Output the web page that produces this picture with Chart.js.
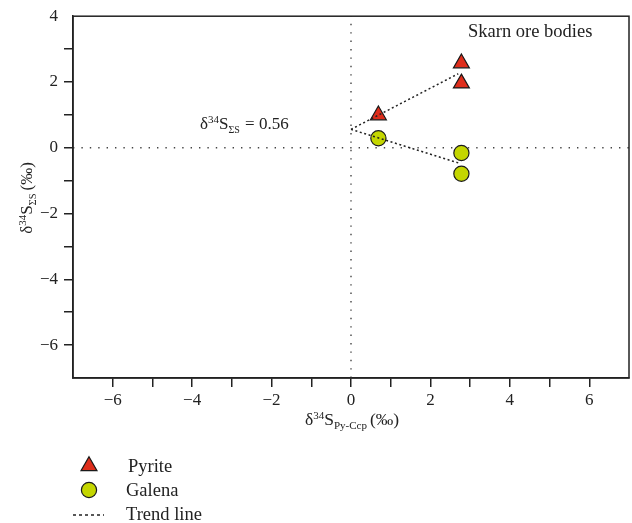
<!DOCTYPE html>
<html>
<head>
<meta charset="utf-8">
<script src="https://cdn.jsdelivr.net/npm/chart.js@4.4.1/dist/chart.umd.min.js"></script>
<style>
  html, body { margin: 0; padding: 0; background: #fff; }
  #wrap { width: 632px; height: 523px; position: relative; }
</style>
</head>
<body>
<div id="wrap"><canvas id="chart-sulfur"></canvas></div>
<script>
// sulfur isotope data (‰)
const pyriteX = [0.69, 2.78, 2.78];
const pyriteY = [0.99, 2.57, 1.96];
const galenaX = [0.69, 2.78, 2.78];
const galenaY = [0.29, -0.16, -0.79];

// trend lines meet the y axis at the bulk sulfur value
const sumS = 0.56;
const trendX = [0, 2.7];
const pyriteTrendY = [sumS, 2.25];
const galenaTrendY = [sumS, -0.46];

const xTicks = [-6, -4, -2, 0, 2, 4, 6];
const yTicks = [-6, -4, -2, 0, 2, 4];

const serif = "'Liberation Serif', 'DejaVu Serif', serif";
const ink = "#222";

function pts(xs, ys) {
  return xs.map((x, i) => ({ x: x, y: ys[i] }));
}

function minus(v) {
  return v < 0 ? "\u2212" + Math.abs(v) : String(v);
}

// draws text runs with super/subscripts, starting at x on baseline y
function richText(ctx, runs, x, y) {
  let cx = x;
  runs.forEach(r => {
    ctx.font = r.size + "px " + serif;
    ctx.fillText(r.t, cx, y + (r.dy || 0));
    cx += ctx.measureText(r.t).width + (r.gap || 0);
  });
  return cx - x;
}

function richWidth(ctx, runs) {
  let w = 0;
  runs.forEach(r => {
    ctx.font = r.size + "px " + serif;
    w += ctx.measureText(r.t).width + (r.gap || 0);
  });
  return w;
}

const xTitle = [
  { t: "\u03b4", size: 17.5 },
  { t: "34", size: 11, dy: -6 },
  { t: "S", size: 17.5 },
  { t: "Py-Ccp", size: 11, dy: 4, gap: 3 },
  { t: "(\u2030)", size: 17.5 },
];
const yTitle = [
  { t: "\u03b4", size: 17 },
  { t: "34", size: 11, dy: -6 },
  { t: "S", size: 17 },
  { t: "\u03a3S", size: 10.5, dy: 4, gap: 3 },
  { t: "(\u2030)", size: 17 },
];
const sumLabel = [
  { t: "\u03b4", size: 17 },
  { t: "34", size: 11, dy: -6 },
  { t: "S", size: 17 },
  { t: "\u03a3S", size: 10, dy: 4, gap: 1 },
  { t: " = " + sumS, size: 17 },
];

const decorations = {
  id: "decorations",
  afterDraw(chart) {
    const { ctx, chartArea: a } = chart;
    ctx.save();
    // frame around the plot area
    ctx.strokeStyle = ink;
    ctx.lineWidth = 1.5;
    ctx.strokeRect(a.left, a.top, a.right - a.left, a.bottom - a.top);

    ctx.fillStyle = ink;
    ctx.textBaseline = "alphabetic";
    ctx.textAlign = "left";

    // axis titles
    richText(ctx, xTitle, 305, 425);
    const yw = richWidth(ctx, yTitle);
    ctx.save();
    ctx.translate(32, 198 + yw / 2);
    ctx.rotate(-Math.PI / 2);
    richText(ctx, yTitle, 0, 0);
    ctx.restore();

    // annotations
    richText(ctx, sumLabel, 200, 129);
    ctx.font = "18.5px " + serif;
    ctx.fillText("Skarn ore bodies", 468, 37);

    // legend
    const ds = chart.data.datasets;
    const items = [
      { d: ds[2], y: 466 },
      { d: ds[3], y: 490 },
    ];
    items.forEach(it => {
      ctx.fillStyle = it.d.backgroundColor;
      ctx.strokeStyle = it.d.borderColor;
      ctx.lineWidth = it.d.borderWidth;
      Chart.helpers.drawPoint(ctx, {
        pointStyle: it.d.pointStyle,
        radius: it.d.pointRadius,
        rotation: 0,
        borderWidth: it.d.borderWidth,
      }, 89, it.y);
      ctx.fillStyle = ink;
      ctx.font = "18.5px " + serif;
      ctx.textBaseline = "middle";
      ctx.fillText(it.d.label, it.d.label === "Pyrite" ? 128 : 126, it.y + 1);
    });
    ctx.strokeStyle = ink;
    ctx.lineWidth = 1.3;
    ctx.setLineDash([3, 3]);
    ctx.beginPath();
    ctx.moveTo(73, 515);
    ctx.lineTo(104, 515);
    ctx.stroke();
    ctx.setLineDash([]);
    ctx.fillStyle = ink;
    ctx.fillText("Trend line", 126, 515);
    ctx.restore();
  },
};

const trendStyle = {
  showLine: true,
  pointRadius: 0,
  borderColor: ink,
  borderWidth: 1.5,
  borderDash: [2, 2.6],
  fill: false,
};
const zeroStyle = {
  showLine: true,
  pointRadius: 0,
  borderColor: "#444",
  borderWidth: 1.4,
  borderDash: [1.4, 7],
  fill: false,
};

new Chart(document.getElementById("chart-sulfur"), {
  type: "scatter",
  data: {
    datasets: [
      Object.assign({ label: "Trend line", data: pts(trendX, pyriteTrendY) }, trendStyle),
      Object.assign({ label: "Trend line", data: pts(trendX, galenaTrendY) }, trendStyle),
      {
        label: "Pyrite",
        data: pts(pyriteX, pyriteY),
        pointStyle: "triangle",
        pointRadius: 9.2,
        backgroundColor: "#de2d1b",
        borderColor: "#1a1a1a",
        borderWidth: 1.2,
      },
      {
        label: "Galena",
        data: pts(galenaX, galenaY),
        pointStyle: "circle",
        pointRadius: 7.6,
        backgroundColor: "#c4d600",
        borderColor: "#1a1a1a",
        borderWidth: 1.2,
      },
      Object.assign({ label: "", data: pts([-7, 7], [0, 0]) }, zeroStyle),
      Object.assign({ label: "", data: pts([0, 0], [-7, 4]) }, zeroStyle),
    ],
  },
  options: {
    responsive: true,
    maintainAspectRatio: false,
    animation: false,
    layout: { autoPadding: false, padding: { left: 0, top: 15, right: 3, bottom: 0 } },
    plugins: {
      legend: { display: false },
      tooltip: { enabled: false },
    },
    scales: {
      x: {
        type: "linear",
        min: -7,
        max: 7,
        afterFit: s => { s.height = 145; },
        afterBuildTicks: s => {
          s.ticks = [];
          for (let v = -7; v <= 7; v++) s.ticks.push({ value: v });
        },
        ticks: {
          autoSkip: false,
          maxRotation: 0,
          padding: 3,
          color: ink,
          font: { family: serif, size: 17 },
          callback: v => (xTicks.includes(v) ? minus(v) : ""),
        },
        grid: {
          drawOnChartArea: false,
          drawTicks: true,
          tickLength: 9,
          lineWidth: 1.5,
          color: c => (Math.abs(c.tick.value) === 7 ? "rgba(0,0,0,0)" : ink),
        },
        border: { color: ink, width: 1.5 },
      },
      y: {
        type: "linear",
        min: -7,
        max: 4,
        afterFit: s => { s.width = 73; },
        afterBuildTicks: s => {
          s.ticks = [];
          for (let v = -7; v <= 4; v++) s.ticks.push({ value: v });
        },
        ticks: {
          autoSkip: false,
          padding: 6,
          color: ink,
          font: { family: serif, size: 17 },
          callback: v => (yTicks.includes(v) ? minus(v) : ""),
        },
        grid: {
          drawOnChartArea: false,
          drawTicks: true,
          tickLength: 9,
          lineWidth: 1.5,
          color: c => (c.tick.value === -7 || c.tick.value === 4 ? "rgba(0,0,0,0)" : ink),
        },
        border: { color: ink, width: 1.5 },
      },
    },
  },
  plugins: [decorations],
});
</script>
</body>
</html>
